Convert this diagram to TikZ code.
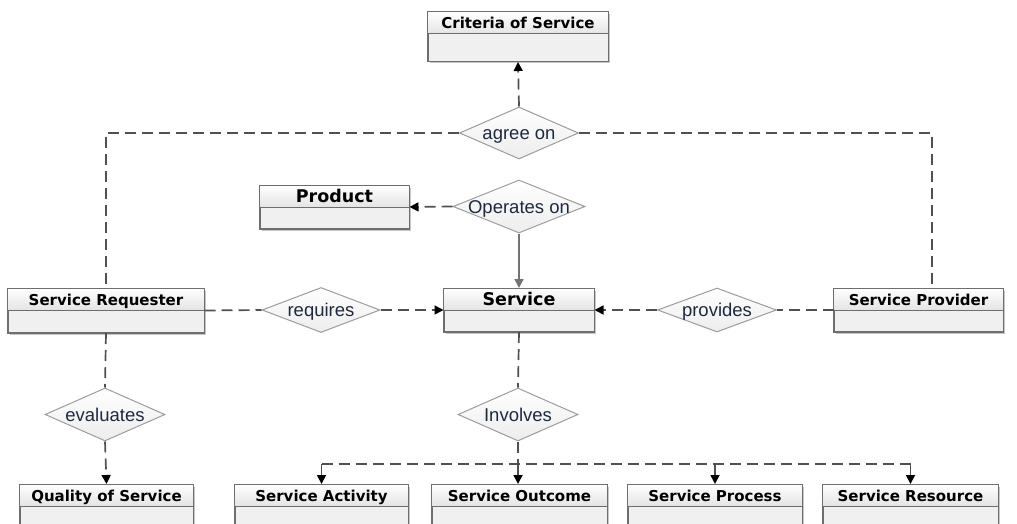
\documentclass[tikz,border=0pt]{standalone}
\usepackage{fontspec}
\setmainfont{Liberation Sans}
\newfontfamily\boxfont{DejaVu Sans}
\usetikzlibrary{shapes.geometric,arrows.meta,shadows,calc}
\definecolor{linegray}{HTML}{505050}
\definecolor{boxedge}{HTML}{6E6E6E}
\definecolor{bodyfill}{HTML}{F0F0F0}
\definecolor{headbot}{HTML}{E4E4E4}
\definecolor{diafill}{HTML}{EFEFEF}
\definecolor{diaedge}{HTML}{9C9C9C}
\definecolor{diatext}{HTML}{1E2940}
\tikzset{
  ubox/.style={rectangle, draw=boxedge, line width=1pt, fill=bodyfill, inner sep=0pt,
    drop shadow={shadow xshift=2pt, shadow yshift=-2pt, fill=black!22, opacity=1}},
  titletext/.style={font=\boxfont\bfseries\fontsize{15}{17}\selectfont, text=black, inner sep=0pt, text height=14pt, text depth=3pt},
  bigtitle/.style={font=\boxfont\bfseries\fontsize{17.5}{19}\selectfont, text=black, inner sep=0pt, text height=14pt, text depth=3pt},
  rel/.style={diamond, draw=diaedge, line width=1pt, top color=white, bottom color=diafill!90!black!10!diafill, fill=diafill, inner sep=0pt},
  reltext/.style={font=\fontsize{18.5}{20}\selectfont, text=diatext, inner sep=0pt, text height=15pt, text depth=2pt},
  dline/.style={draw=linegray, line width=1.7pt, dash pattern=on 11pt off 6pt},
  sline/.style={draw=linegray!80, line width=1.7pt},
  arr/.style={-{Triangle[length=9pt,width=9pt,color=black]}},
  garr/.style={-{Triangle[length=9pt,width=9pt,color=linegray!80]}},
}
\newcommand{\umlbox}[7]{%
  \node[ubox, minimum width=#4pt, minimum height=#5pt, anchor=north] (#1) at (#2,#3) {};
  \shade[top color=white, bottom color=headbot] (#1.north west) rectangle ($(#1.north east)+(0,22)$);
  \draw[boxedge, line width=1pt] ($(#1.north west)+(0,22)$) -- ($(#1.north east)+(0,22)$);
  \draw[boxedge, line width=1pt] (#1.north west) rectangle (#1.south east);
  \node[#7] (#1t) at ($(#1.north)+(0,11.5)$) {#6};
}
\begin{document}
\begin{tikzpicture}[x=1pt,y=-1pt]
\useasboundingbox (0,0) rectangle (1017,524);
\clip (0,0) rectangle (1017,524);
% boxes
\umlbox{crit}{518}{12}{180}{49}{Criteria of Service}{titletext}
\umlbox{prod}{334.5}{185}{149}{43}{Product}{bigtitle}
\umlbox{req}{106}{288}{196}{44}{Service Requester}{titletext}
\umlbox{srv}{519}{288}{150}{43}{Service}{bigtitle}
\umlbox{prov}{918.5}{288}{169}{43}{Service Provider}{titletext}
\umlbox{qos}{106.5}{484}{173}{44}{Quality of Service}{titletext}
\umlbox{act}{321.5}{484}{173}{44}{Service Activity}{titletext}
\umlbox{out}{519.5}{484}{175}{44}{Service Outcome}{titletext}
\umlbox{proc}{715}{484}{174}{44}{Service Process}{titletext}
\umlbox{res}{910.5}{484}{175}{44}{Service Resource}{titletext}
% diamonds
\node[rel, minimum width=119pt, minimum height=52pt] (agree) at (519,133) {};
\node[reltext] at (agree) {agree on};
\node[rel, minimum width=132pt, minimum height=53pt] (oper) at (519,206.5) {};
\node[reltext] at (oper) {Operates on};
\node[rel, minimum width=118pt, minimum height=45pt] (requires) at (321,310) {};
\node[reltext] at (requires) {requires};
\node[rel, minimum width=119pt, minimum height=44pt] (provides) at (717,310) {};
\node[reltext] at (provides) {provides};
\node[rel, minimum width=120pt, minimum height=53pt] (eval) at (105,414.5) {};
\node[reltext] at (eval) {evaluates};
\node[rel, minimum width=120pt, minimum height=53pt] (inv) at (518,414.5) {};
\node[reltext] at (inv) {Involves};
% connectors
\coordinate (provtop) at (932,288);
\coordinate (bus) at (518,464);
\draw[dline] (agree.west) -| (req.north);
\draw[dline] (agree.east) -| (provtop);
\draw[dline, arr] (agree.north) -- (crit.south);
\draw[dline, arr] (oper.west) -- (prod.east);
\draw[sline, garr] (oper.south) -- (srv.north);
\draw[dline] (req.east) -- (requires.west);
\draw[dline, arr] (requires.east) -- (srv.west);
\draw[dline] (prov.west) -- (provides.east);
\draw[dline, arr] (provides.west) -- (srv.east);
\draw[dline] (req.south) -- (eval.north);
\draw[dline, arr] (eval.south) -- (qos.north);
\draw[dline] (srv.south) -- (inv.north);
\draw[dline] (inv.south) -- (bus);
\draw[dline] (bus -| act.north) -- (bus -| res.north);
\draw[dline, arr] (bus -| act.north) -- (act.north);
\draw[dline, arr] (bus) -- (bus |- out.north);
\draw[dline, arr] (bus -| proc.north) -- (proc.north);
\draw[dline, arr] (bus -| res.north) -- (res.north);
\end{tikzpicture}
\end{document}
